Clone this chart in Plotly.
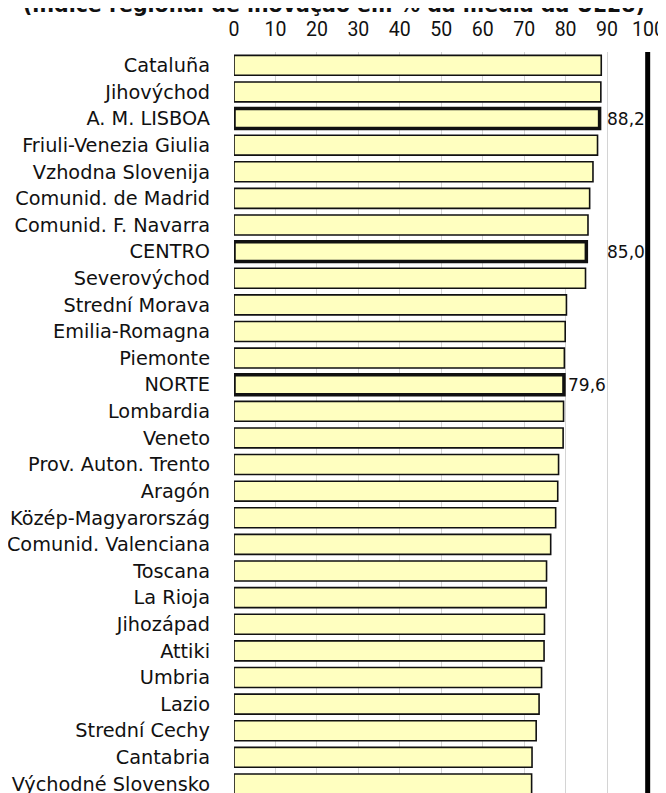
import plotly.graph_objects as go

regions = ["Cataluña", "Jihovýchod", "A. M. LISBOA", "Friuli-Venezia Giulia", "Vzhodna Slovenija",
           "Comunid. de Madrid", "Comunid. F. Navarra", "CENTRO", "Severovýchod", "Strední Morava",
           "Emilia-Romagna", "Piemonte", "NORTE", "Lombardia", "Veneto", "Prov. Auton. Trento",
           "Aragón", "Közép-Magyarország", "Comunid. Valenciana", "Toscana", "La Rioja", "Jihozápad",
           "Attiki", "Umbria", "Lazio", "Strední Cechy", "Cantabria", "Východné Slovensko"]
values = [88.6, 88.5, 88.2, 87.7, 86.6, 85.8, 85.4, 85.0, 84.8, 80.2, 79.9, 79.7, 79.6, 79.5,
          79.4, 78.3, 78.1, 77.6, 76.4, 75.4, 75.3, 74.9, 74.8, 74.2, 73.6, 72.9, 71.9, 71.8]
highlighted = ["A. M. LISBOA", "CENTRO", "NORTE"]
label_text = {"A. M. LISBOA": "88,2", "CENTRO": "85,0", "NORTE": "79,6"}
label_x = {"A. M. LISBOA": 90.0, "CENTRO": 90.0, "NORTE": 80.6}
tick_vals = [0, 10, 20, 30, 40, 50, 60, 70, 80, 90, 100]
title_text = "(índice regional de inovação em % da média da UE28)"

FONT = "DejaVu Sans"
TICK_FONT = "Liberation Sans Narrow, Roboto, DejaVu Sans"
line_w = [3.5 if r in highlighted else 1.6 for r in regions]

fig = go.Figure(go.Bar(
    y=regions, x=values, orientation="h",
    marker=dict(color="#FFFFC0", line=dict(color="#111111", width=line_w)),
    width=0.75, hoverinfo="skip",
))

for r in highlighted:
    fig.add_annotation(x=label_x[r], y=r, text=label_text[r], xanchor="left", yanchor="middle",
                       showarrow=False, xshift=-2, font=dict(family=FONT, size=17, color="#111111"))

fig.add_shape(type="line", xref="x", yref="paper", x0=99.8, x1=99.8, y0=0, y1=1,
              line=dict(color="black", width=5))

fig.add_annotation(xref="paper", yref="paper", x=0.24, y=1, yshift=33,
                   text="<b>" + title_text + "</b>",
                   showarrow=False, xanchor="center", yanchor="bottom",
                   font=dict(family=FONT, size=20.5, color="#111111"))

# page body has an 8px default margin: layout is expressed so the window positions match
fig.update_layout(
    width=666, height=793,
    margin=dict(l=225.8, r=22.7, t=43.7, b=8, autoexpand=False),
    paper_bgcolor="white", plot_bgcolor="white",
    showlegend=False,
    font=dict(family=FONT, size=17, color="#111111"),
    xaxis=dict(side="top", range=[0, 100.6], tickvals=tick_vals, showgrid=True,
               gridcolor="#d4d4d4", gridwidth=1, zeroline=False, showline=False,
               ticks="", ticklabelstandoff=11, automargin=False,
               tickfont=dict(family=TICK_FONT, size=19.5)),
    yaxis=dict(range=[27.34, -0.5], showgrid=False, zeroline=False, showline=False,
               ticks="", ticklabelstandoff=23, automargin=False,
               tickfont=dict(family=FONT, size=19.3)),
)

fig.write_html("out.html")
